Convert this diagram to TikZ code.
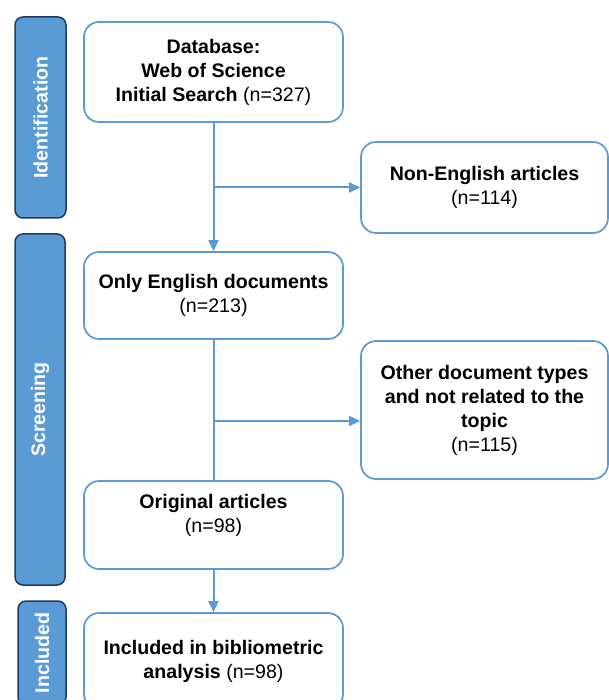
\documentclass[tikz,border=0pt]{standalone}
\usepackage{fontspec}
\setmainfont{Liberation Sans}
\usetikzlibrary{arrows.meta}
\definecolor{boxblue}{HTML}{5B9BD5}
\definecolor{bardark}{HTML}{1F3A60}

\begin{document}
\begin{tikzpicture}[x=1pt,y=-1pt,every node/.style={font=\fontsize{19.6}{24}\selectfont},stage/.style={rectangle,rounded corners=15pt,draw=boxblue,line width=1.7pt,fill=white,align=center,inner sep=0pt},phase/.style={rectangle,rounded corners=8pt,draw=bardark,line width=1.5pt,fill=boxblue,text=white,rotate=90,inner sep=0pt,font=\fontsize{19.6}{24}\selectfont\bfseries},connector/.style={boxblue,line width=2pt},connarrow/.style={connector,-{Triangle[length=11pt,width=10pt]}}]
	\useasboundingbox (0,0) rectangle (609,700);
	\node[phase,minimum width=201pt,minimum height=51pt] (ident) at (40.5,117.5) {Identification};
	\node[phase,minimum width=351pt,minimum height=50pt] (screen) at (40,409.5) {Screening};
	\node[phase,minimum width=104pt,minimum height=48pt] (incl) at (42,653) {Included};
	\node[stage,minimum width=259pt,minimum height=100pt] (db) at (213.5,72) {\textbf{Database:}\\\textbf{Web of Science}\\\textbf{Initial Search} (n=327)};
	\node[stage,minimum width=247pt,minimum height=91pt] (noneng) at (484.5,187.5) {\textbf{Non-English articles}\\(n=114)};
	\node[stage,minimum width=259pt,minimum height=87pt] (english) at (213.5,295.5) {\textbf{Only English documents}\\(n=213)};
	\node[stage,minimum width=247pt,minimum height=138pt] (other) at (484.5,410) {\textbf{Other document types}\\\textbf{and not related to the}\\\textbf{topic}\\(n=115)};
	\node[stage,minimum width=259pt,minimum height=88pt] (orig) at (213.5,525) {\textbf{Original articles}\\(n=98)\\\mbox{}};
	\node[stage,minimum width=259pt,minimum height=96pt] (final) at (213.5,661) {\textbf{Included in bibliometric}\\\textbf{analysis} (n=98)};
	\coordinate (otherin) at ([yshift=-11pt]other.west);
	\draw[connarrow] (db) -- (english);
	\draw[connarrow] (db.south |- noneng.west) -- (noneng.west);
	\draw[connector] (english) -- (orig);
	\draw[connarrow] (english.south |- otherin) -- (otherin);
	\draw[connarrow] (orig) -- (final);
\end{tikzpicture}
\end{document}
